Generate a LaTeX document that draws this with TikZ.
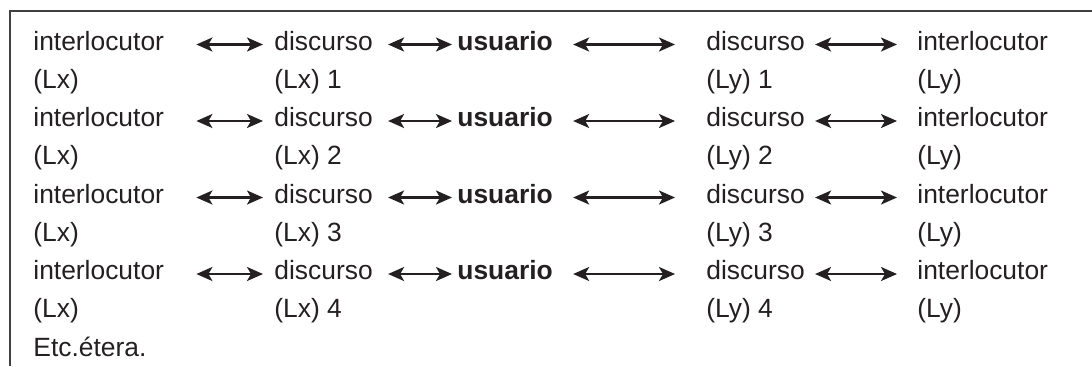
\documentclass[tikz,border=0pt]{standalone}
\usepackage{fontspec}
\setmainfont{Liberation Sans}
\usetikzlibrary{arrows.meta}
\definecolor{TextClr}{rgb}{0.14,0.12,0.13}
\definecolor{FrameClr}{rgb}{0.25,0.25,0.25}

\begin{document}
\begin{tikzpicture}[x=0.5pt,y=0.5pt,
  txt/.style={anchor=base west,inner sep=0pt,text=TextClr,font=\fontsize{13.2}{16}\selectfont},
  link/.style={{Stealth[length=8pt,width=7pt,inset=2pt]}-{Stealth[length=8pt,width=7pt,inset=2pt]},line width=1.1pt,draw=TextClr}]
\useasboundingbox (0,0) rectangle (1092,-366);
\draw[FrameClr,line width=0.6pt] (1092,-11) -- (10,-11) -- (10,-366);

\foreach \r in {1,...,4}{
  \pgfmathsetmacro{\yy}{-50-76.5*(\r-1)}
  \pgfmathsetmacro{\yb}{\yy-38.25}
  % upper line
  \node[txt] (iL\r) at (33,\yy) {interlocutor};
  \node[txt] (dL\r) at (274,\yy) {discurso};
  \node[txt] (u\r) at (457,\yy) {\bfseries usuario};
  \node[txt] (dR\r) at (706,\yy) {discurso};
  \node[txt] (iR\r) at (917,\yy) {interlocutor};
  % lower line
  \node[txt] (iLb\r) at (33,\yb) {(Lx)};
  \node[txt] (dLb\r) at (274,\yb) {(Lx) \r};
  \node[txt] (dRb\r) at (706,\yb) {(Ly) \r};
  \node[txt] (iRb\r) at (917,\yb) {(Ly)};
  % arrows
  \draw[link,shorten <=16pt,shorten >=5.5pt] ([yshift=2.75pt]iL\r.base east) -- ([yshift=2.75pt]dL\r.base west);
  \draw[link,shorten <=7.5pt,shorten >=2.5pt] ([yshift=2.75pt]dL\r.base east) -- ([yshift=2.75pt]u\r.base west);
  \draw[link,shorten <=10pt,shorten >=15.5pt] ([yshift=2.75pt]u\r.base east) -- ([yshift=2.75pt]dR\r.base west);
  \draw[link,shorten <=5pt,shorten >=10pt] ([yshift=2.75pt]dR\r.base east) -- ([yshift=2.75pt]iR\r.base west);
}
\node[txt] (etc) at (33,-356) {Etc.étera.};

\end{tikzpicture}
\end{document}
